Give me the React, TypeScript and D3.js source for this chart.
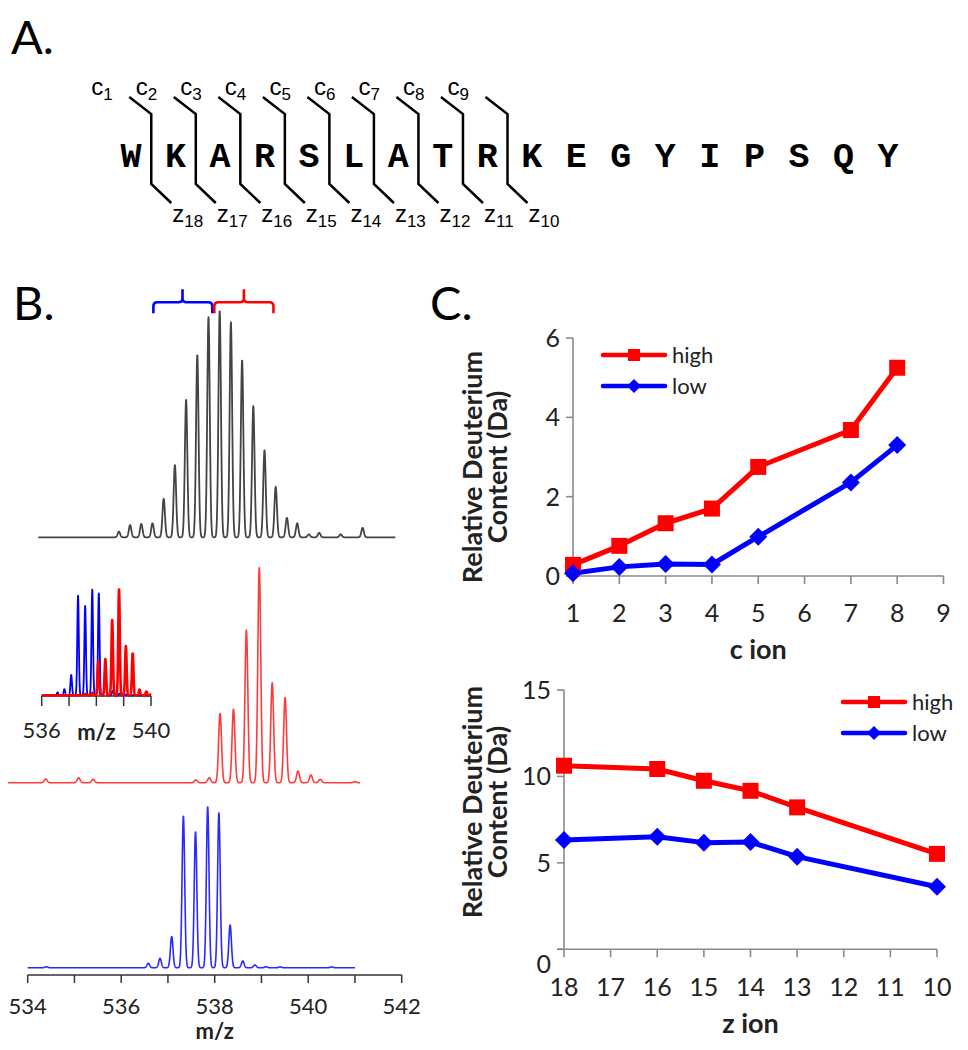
import React from 'react';
import * as d3 from 'd3';

// ---------- Panel A data ----------
const sequence = ['W','K','A','R','S','L','A','T','R','K','E','G','Y','I','P','S','Q','Y'];
const cIons = [1,2,3,4,5,6,7,8,9];
const zIons = [18,17,16,15,14,13,12,11,10];

// ---------- Panel B data (m/z, relative intensity %) ----------
const blackMz = [535.83,536.08,536.33,536.58,536.83,537.08,537.33,537.58,537.83,538.08,538.33,538.58,538.83,539.08,539.33,539.58,539.81,540.07,540.30,540.78,541.27];
const blackRel = [2.5,5.4,5.9,6.2,17.0,31.9,60.6,80.5,97.1,100,94.9,78.2,57.9,38.5,22.3,8.6,6.2,1.3,2.0,1.3,4.2];
const redMz = [534.69,535.33,535.61,537.60,537.86,538.07,538.33,538.58,538.83,539.08,539.33,539.58,539.83,540.01,540.68];
const redRel = [1.7,2.3,1.6,1.3,2.3,32.2,34.2,70.9,100,46.4,39.6,5.4,3.6,1.6,0.5];
const blueMz = [534.4,536.58,536.83,537.08,537.33,537.59,537.85,538.09,538.33,538.60,538.86,539.1,539.4,540.5];
const blueRel = [0.6,2.7,5.8,19.3,94.2,84.5,100,96.3,26.5,4.2,1.7,0.6,0.5,0.5];
const mzTicks = [534,535,536,537,538,539,540,541,542];
const mzLabels = [534,536,538,540,542];
const insetTicks = [536,537,538,539,540];
const insetLabels = [536,540];
// bracket annotations [start, centre, end] in m/z of the top spectrum
const blueBracket = [536.60, 537.25, 537.915];
const redBracket = [537.96, 538.62, 539.28];

// ---------- Panel C data ----------
const cIon = [1,2,3,4,5,7,8];
const cHigh = [0.28,0.76,1.33,1.7,2.75,3.68,5.25];
const cLow = [0.07,0.23,0.3,0.29,0.99,2.36,3.3];
const cTicksX = [1,2,3,4,5,6,7,8,9];
const cTicksY = [0,2,4,6];
const zIon = [18,16,15,14,13,10];
const zHigh = [10.62,10.43,9.75,9.17,8.21,5.52];
const zLow = [6.32,6.51,6.17,6.2,5.36,3.62];
const zTicksX = [18,17,16,15,14,13,12,11,10];
const zTicksY = [0,5,10,15];

const SANS = "Lato, 'Open Sans', sans-serif";
const ARIAL = "'Liberation Sans', Arial, sans-serif";
const AXIS = '#8a8a8a';
const TXT = '#222';

function profile(mz: number[], rel: number[], lo: number, hi: number, sigma = 0.028) {
  const pts: [number, number][] = [];
  for (let m = lo; m <= hi + 1e-9; m += 0.004) {
    let y = 0;
    for (let i = 0; i < mz.length; i++) {
      const d = m - mz[i];
      if (Math.abs(d) < 6 * sigma) y += rel[i] * Math.exp(-(d * d) / (2 * sigma * sigma));
    }
    pts.push([m, y]);
  }
  return pts;
}

function Spectrum({ mz, rel, lo, hi, x, y, color, width }: any) {
  const line = d3.line<[number, number]>().x(d => x(d[0])).y(d => y(d[1]));
  return <path d={line(profile(mz, rel, lo, hi)) || ''} fill="none" stroke={color} strokeWidth={width} strokeLinejoin="round" />;
}

function Bracket({ b, x, yTop, color }: any) {
  const [s, c, e] = b.map((v: number) => x(v));
  const r = 4;
  const d = `M${s},${yTop + 11} V${yTop + r} Q${s},${yTop} ${s + r},${yTop} H${c - r} Q${c},${yTop} ${c},${yTop - r} V${yTop - 13} M${c},${yTop - r} Q${c},${yTop} ${c + r},${yTop} H${e - r} Q${e},${yTop} ${e},${yTop + r} V${yTop + 11}`;
  return <path d={d} fill="none" stroke={color} strokeWidth={2.6} />;
}

function Square({ x, y, s }: any) {
  return <rect x={x - s / 2} y={y - s / 2} width={s} height={s} fill="#ff0000" />;
}
function Diamond({ x, y, s }: any) {
  return <path d={`M${x},${y - s} L${x + s},${y} L${x},${y + s} L${x - s},${y} Z`} fill="#0000ff" />;
}

function LineChart({ xs, ys, xTicks, yTicks, xData, high, low, xTitle, titleY, legend, xAxisLabelY, zeroDy }: any) {
  const line = d3.line<number>().x((_, i) => xs(xData[i]));
  const [x0, x1] = xs.range();
  const [y0, y1] = ys.range();
  const xl = Math.min(x0, x1), xr = Math.max(x0, x1);
  const yAxisX = xs(xTicks[0]);
  return (
    <g>
      <line x1={yAxisX} x2={yAxisX} y1={y0} y2={y1} stroke={AXIS} strokeWidth={1.6} />
      <line x1={xl - 7} x2={xr} y1={y0} y2={y0} stroke={AXIS} strokeWidth={1.6} />
      {yTicks.map((t: number) => (
        <g key={'y' + t}>
          <line x1={yAxisX - 7} x2={yAxisX} y1={ys(t)} y2={ys(t)} stroke={AXIS} strokeWidth={1.6} />
          <text x={yAxisX - 13} y={ys(t) + 9 + (t === 0 ? zeroDy : 0)} textAnchor="end" fontSize={25} fontFamily={SANS} fill={TXT}>{t}</text>
        </g>
      ))}
      {xTicks.map((t: number) => (
        <g key={'x' + t}>
          <line x1={xs(t)} x2={xs(t)} y1={y0} y2={y0 + 8} stroke={AXIS} strokeWidth={1.6} />
          <text x={xs(t)} y={xAxisLabelY} textAnchor="middle" fontSize={25} fontFamily={SANS} fill={TXT}>{t}</text>
        </g>
      ))}
      <text x={(xl + xr) / 2} y={xAxisLabelY + 37} textAnchor="middle" fontSize={27} fontWeight="bold" fontFamily={SANS} fill={TXT}>{xTitle}</text>
      <text transform={`translate(482,${titleY}) rotate(-90)`} textAnchor="middle" fontSize={27} fontWeight="bold" fontFamily={SANS} fill={TXT}>Relative Deuterium</text>
      <text transform={`translate(507,${titleY}) rotate(-90)`} textAnchor="middle" fontSize={27} fontWeight="bold" fontFamily={SANS} fill={TXT}>Content (Da)</text>
      <path d={line.y((_, i) => ys(high[i]))(high) || ''} fill="none" stroke="#ff0000" strokeWidth={5} strokeLinejoin="round" />
      <path d={line.y((_, i) => ys(low[i]))(low) || ''} fill="none" stroke="#0000ff" strokeWidth={5} strokeLinejoin="round" />
      {high.map((v: number, i: number) => <Square key={'h' + i} x={xs(xData[i])} y={ys(v)} s={16} />)}
      {low.map((v: number, i: number) => <Diamond key={'l' + i} x={xs(xData[i])} y={ys(v)} s={9} />)}
      {/* legend */}
      <g>
        <line x1={legend.x} x2={legend.x + 62} y1={legend.y} y2={legend.y} stroke="#ff0000" strokeWidth={4.5} strokeLinecap="round" />
        <Square x={legend.x + 31} y={legend.y} s={12} />
        <text x={legend.x + 69} y={legend.y + 8} fontSize={22} fontFamily={SANS} fill={TXT}>high</text>
        <line x1={legend.x} x2={legend.x + 62} y1={legend.y + 31} y2={legend.y + 31} stroke="#0000ff" strokeWidth={4.5} strokeLinecap="round" />
        <Diamond x={legend.x + 31} y={legend.y + 31} s={7} />
        <text x={legend.x + 69} y={legend.y + 39} fontSize={22} fontFamily={SANS} fill={TXT}>low</text>
      </g>
    </g>
  );
}

export default function App() {
  // Panel A
  const letterX = d3.scalePoint<number>().domain(d3.range(sequence.length)).range([131, 888]);
  const step = letterX.step();

  // Panel B scales
  const blackX = d3.scaleLinear().domain([534, 542]).range([219.7 + (534 - 538.08) * 44.8, 219.7 + (542 - 538.08) * 44.8]);
  const blackY = d3.scaleLinear().domain([0, 100]).range([537.3, 310.7]);
  const redX = d3.scaleLinear().domain([534, 541]).range([259.3 + (534 - 538.83) * 51.6, 259.3 + (541 - 538.83) * 51.6]);
  const redY = d3.scaleLinear().domain([0, 100]).range([782.7, 567.3]);
  const blueX = d3.scaleLinear().domain([534, 542]).range([27.7, 401.7]);
  const blueY = d3.scaleLinear().domain([0, 100]).range([967.7, 806.7]);
  const insetX = d3.scaleLinear().domain([536, 540]).range([41.7, 151]);
  const insetY = d3.scaleLinear().domain([0, 100]).range([695.3, 589.3]);

  // Panel C scales
  const cX = d3.scaleLinear().domain([1, 9]).range([573, 943.5]);
  const cY = d3.scaleLinear().domain([0, 6]).range([576, 338]);
  const zX = d3.scaleLinear().domain([18, 10]).range([564, 937]);
  const zY = d3.scaleLinear().domain([0, 15]).range([949.3, 690]);

  return (
    <svg width={968} height={1050} style={{ position: 'absolute', left: 0, top: 0, background: '#fff' }}>
      <rect width={968} height={1050} fill="#fff" />
      {/* Panel labels */}
      <text x={11} y={54} fontSize={47} fontFamily={SANS} fill="#000">A.</text>
      <text x={13} y={320} fontSize={47} fontFamily={SANS} fill="#000">B.</text>
      <text x={430} y={320} fontSize={47} fontFamily={SANS} fill="#000">C.</text>

      {/* Panel A */}
      {sequence.map((s, i) => (
        <text key={'s' + i} x={letterX(i)} y={167} textAnchor="middle" fontSize={35} fontWeight="bold" fontFamily="'Liberation Mono', 'Courier New', monospace" fill="#000">{s}</text>
      ))}
      {cIons.map((c, i) => {
        const v = (letterX(i) as number) + step / 2 - 2;
        return (
          <g key={'cl' + i}>
            <path d={`M${v - 22},${97} L${v},${114} V${184} L${v + 20},${203}`} fill="none" stroke="#000" strokeWidth={2.5} />
            <text x={v - 60} y={95} fontSize={24} fontFamily={ARIAL} fill="#000">c<tspan fontSize={17} dy={5}>{c}</tspan></text>
            <text x={v + 21} y={222} fontSize={24} fontFamily={ARIAL} fill="#000">z<tspan fontSize={17} dy={5}>{zIons[i]}</tspan></text>
          </g>
        );
      })}

      {/* Panel B */}
      <Bracket b={blueBracket} x={blackX} yTop={302.3} color="#0000ff" />
      <Bracket b={redBracket} x={blackX} yTop={302.3} color="#ff0000" />
      <Spectrum mz={blackMz} rel={blackRel} lo={534.03} hi={542} x={blackX} y={blackY} color="#444" width={1.8} />
      <Spectrum mz={redMz} rel={redRel} lo={533.96} hi={540.78} x={redX} y={redY} color="#ff3a3a" width={1.6} />
      <Spectrum mz={blueMz} rel={blueRel} lo={534} hi={541} x={blueX} y={blueY} color="#2a2aff" width={1.6} />

      {/* inset */}
      <line x1={insetX(536)} x2={insetX(540)} y1={696} y2={696} stroke="#333" strokeWidth={1.5} />
      {insetTicks.map(t => (
        <line key={'it' + t} x1={insetX(t)} x2={insetX(t)} y1={696} y2={706} stroke="#333" strokeWidth={1.5} />
      ))}
      <Spectrum mz={blueMz} rel={blueRel} lo={536} hi={540} x={insetX} y={insetY} color="#0000ff" width={1.8} />
      <Spectrum mz={redMz} rel={redRel} lo={536} hi={540} x={insetX} y={insetY} color="#ff0000" width={2.6} />
      {insetLabels.map(t => (
        <text key={'il' + t} x={insetX(t)} y={738} textAnchor="middle" fontSize={22} fontFamily={SANS} fill={TXT}>{t}</text>
      ))}
      <text x={insetX(538)} y={740} textAnchor="middle" fontSize={22} fontWeight="bold" fontFamily={SANS} fill={TXT}>m/z</text>

      {/* bottom axis */}
      <line x1={blueX(534)} x2={blueX(542)} y1={975} y2={975} stroke="#333" strokeWidth={1.5} />
      {mzTicks.map(t => (
        <line key={'mt' + t} x1={blueX(t)} x2={blueX(t)} y1={975} y2={983} stroke="#333" strokeWidth={1.5} />
      ))}
      {mzLabels.map(t => (
        <text key={'ml' + t} x={blueX(t)} y={1014} textAnchor="middle" fontSize={22} fontFamily={SANS} fill={TXT}>{t}</text>
      ))}
      <text x={blueX(538)} y={1039} textAnchor="middle" fontSize={22} fontWeight="bold" fontFamily={SANS} fill={TXT}>m/z</text>

      {/* Panel C */}
      <LineChart xs={cX} ys={cY} xTicks={cTicksX} yTicks={cTicksY} xData={cIon} high={cHigh} low={cLow}
        xTitle="c ion" titleY={467} legend={{ x: 603, y: 355 }} xAxisLabelY={622} zeroDy={0} />
      <LineChart xs={zX} ys={zY} xTicks={zTicksX} yTicks={zTicksY} xData={zIon} high={zHigh} low={zLow}
        xTitle="z ion" titleY={802} legend={{ x: 843, y: 702 }} xAxisLabelY={996} zeroDy={15} />
    </svg>
  );
}
